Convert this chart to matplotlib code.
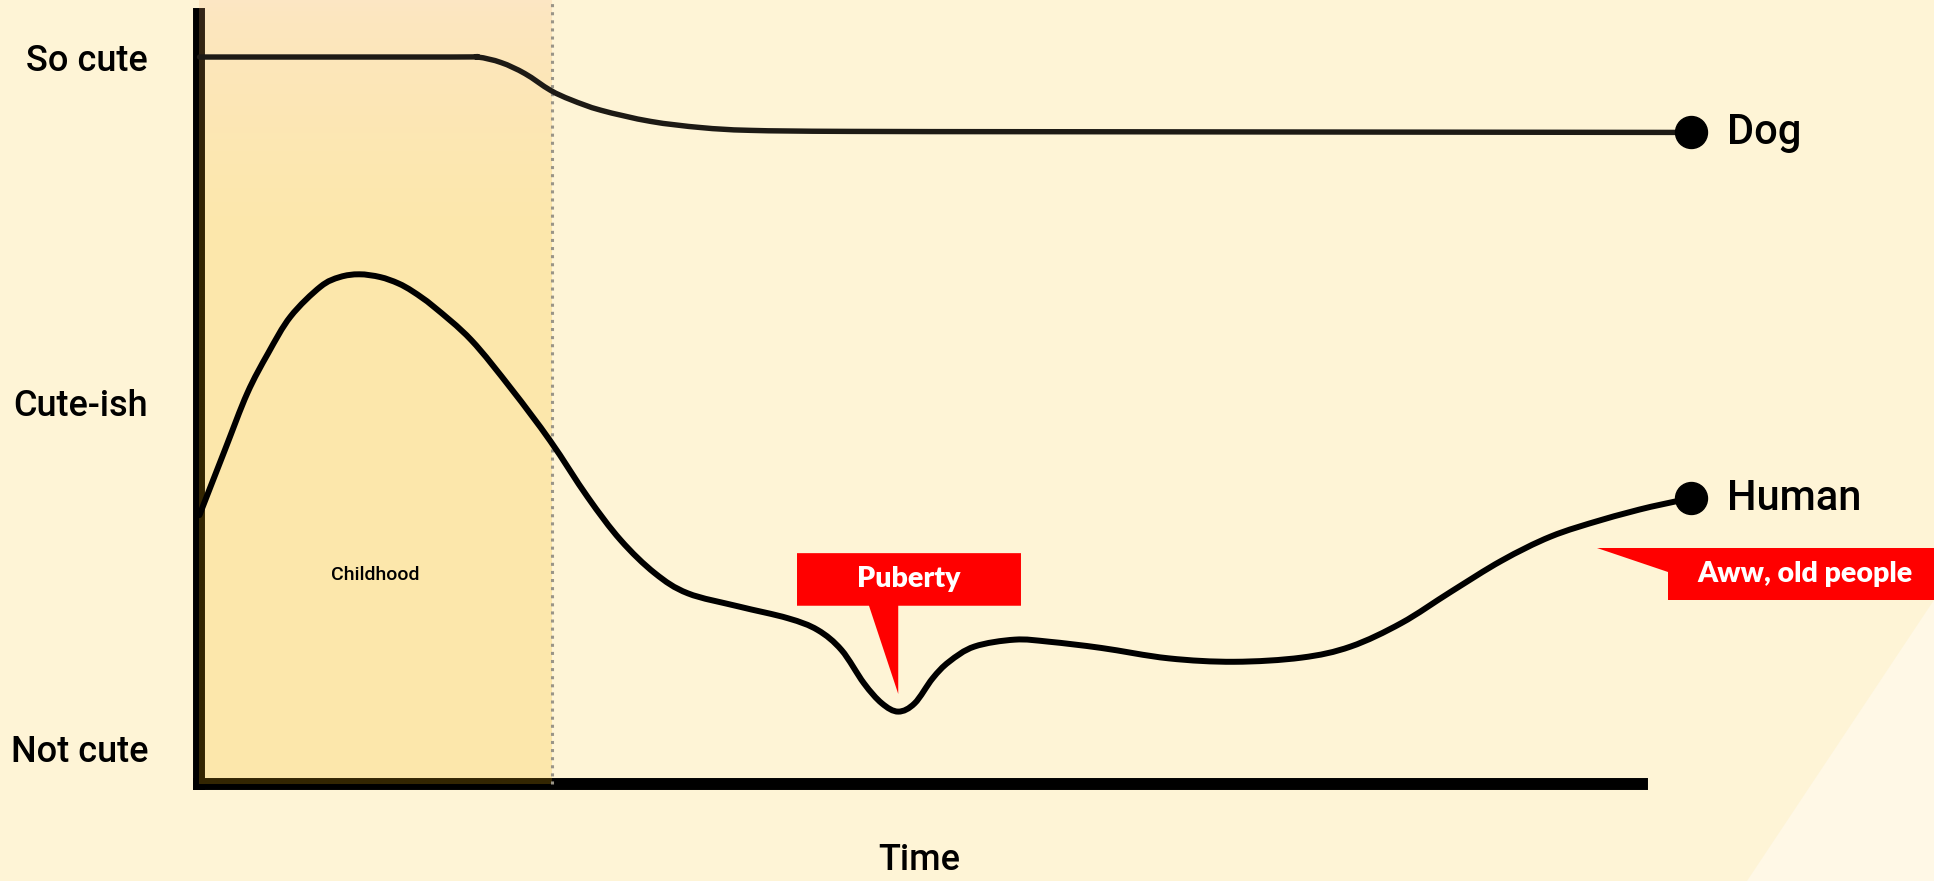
import numpy as np
import matplotlib.pyplot as plt
from matplotlib.patches import Polygon, PathPatch
from matplotlib.path import Path

# cuteness over time
human_x = [0.1, 1.8, 3.3, 4.7, 6.2, 8.2, 9.5, 10.8, 12.2, 13.4, 14.4, 15.8, 18.3, 21.0,
           23.6, 26.1, 28.3, 30.6, 32.8, 36.2, 39.5, 41.5, 43.1, 44.6, 45.8, 46.9,
           48.0, 49.2, 50.3, 52.0, 54.7, 57.0, 60.5, 65.0, 69.4, 73.9, 77.2, 80.6,
           83.9, 87.3, 90.6, 94.0, 97.3, 100.0]
human_y = [3.38, 4.32, 5.14, 5.72, 6.25, 6.68, 6.82, 6.86, 6.82, 6.73, 6.61, 6.39, 5.91, 5.20,
           4.45, 3.64, 3.02, 2.54, 2.25, 2.06, 1.89, 1.72, 1.43, 0.95, 0.66, 0.54,
           0.66, 1.02, 1.26, 1.48, 1.58, 1.55, 1.46, 1.31, 1.26, 1.32, 1.48, 1.82,
           2.27, 2.72, 3.07, 3.31, 3.50, 3.62]

dog_x = [0.1, 17.0, 18.7, 20.3, 21.9, 23.6, 25.0, 27.0, 30.3, 33.7, 37.0, 43.7, 60.0, 100.0]
dog_y = [10.0, 10.0, 10.0, 9.92, 9.76, 9.52, 9.38, 9.23, 9.07, 8.98, 8.94, 8.925, 8.92, 8.91]

level_ticks = [0, 5, 10]
level_labels = ["Not cute", "Cute-ish", "So cute"]

childhood_end = 23.69
puberty_x = 46.9      # the dip the callout points at
oldage_x = 93.7

BG = "#fef4d6"
FONT = ["Roboto", "DejaVu Sans"]
CALL = ["Lato", "DejaVu Sans"]


def curve_path(xs, ys):
    # draw through the read points with cubic segments (catmull-rom style)
    p = np.column_stack([xs, ys])
    ext = np.vstack([p[0], p, p[-1]])
    verts = [p[0]]
    codes = [Path.MOVETO]
    for i in range(len(p) - 1):
        p0, p1, p2, p3 = ext[i], ext[i + 1], ext[i + 2], ext[i + 3]
        verts += [p1 + (p2 - p0) / 6, p2 - (p3 - p1) / 6, p2]
        codes += [Path.CURVE4] * 3
    return Path(verts, codes)


fig = plt.figure(figsize=(19.34, 8.81), dpi=100)
fig.patch.set_facecolor(BG)
ax = fig.add_axes([0, 0, 1, 1])
ax.set_facecolor("none")

# lighter wedge in the lower right corner
fig.patches.append(Polygon([(1, 1 - 600 / 881), (1747 / 1934, 0), (1, 0)],
                           transform=fig.transFigure, fc="#fff8e6", ec="none", zorder=-1))

ybot = -0.506
# childhood band, drawn over the spines with a faint gradient
n = 200
t = np.linspace(0, 1, n)[:, None]
w = np.clip(t / 0.3, 0, 1) ** 0.7
top_c = np.array([250, 180, 125]) / 255
bot_c = np.array([249, 183, 10]) / 255
grad = np.zeros((n, 1, 4))
grad[:, :, :3] = (1 - w[..., None]) * top_c + w[..., None] * bot_c
grad[:, :, 3] = 0.21
ax.imshow(grad, extent=[0.1, childhood_end, ybot, 10.824], aspect="auto",
          interpolation="bicubic", zorder=3)
ax.axvline(childhood_end, ymin=(ybot + 1.908) / 12.732, ymax=1, color="#9a9588",
           ls=":", lw=2.2, zorder=3.5)
ax.text(childhood_end / 2, 2.51, "Childhood", ha="center", va="center",
        fontsize=14, weight="medium", family=FONT, zorder=5)

# curves
ax.add_patch(PathPatch(curve_path(dog_x, dog_y), fc="none", ec="#1d1a15", lw=3.9,
                       capstyle="round", joinstyle="round", zorder=4))
ax.add_patch(PathPatch(curve_path(human_x, human_y), fc="none", ec="black", lw=4.3,
                       capstyle="round", joinstyle="round", zorder=4))
ax.plot(dog_x[-1], dog_y[-1], "o", color="black", ms=23, zorder=5)
ax.plot(human_x[-1], human_y[-1], "o", color="black", ms=23, zorder=5)
ax.annotate("Dog", (dog_x[-1], dog_y[-1]), xytext=(26, 0), textcoords="offset points",
            ha="left", va="center", fontsize=30, weight="medium", family=FONT)
ax.annotate("Human", (human_x[-1], human_y[-1]), xytext=(26, 0), textcoords="offset points",
            ha="left", va="center", fontsize=30, weight="medium", family=FONT)

# puberty callout
pub_tip_y = 0.795
pb = Polygon([(40.12, 2.83), (55.12, 2.83), (55.12, 2.07), (puberty_x, 2.07),
              (puberty_x, pub_tip_y), (44.94, 2.07), (40.12, 2.07)],
             closed=True, fc="#ff0000", ec="none", zorder=6)
ax.add_patch(pb)
ax.text((40.12 + 55.12) / 2, 2.45, "Puberty", ha="center", va="center", color="white",
        fontsize=20.5, weight="heavy", family=CALL, zorder=7)

# old age callout
ob = Polygon([(oldage_x, 2.905), (116.8, 2.905), (116.8, 2.153), (98.46, 2.153),
              (98.46, 2.56)], closed=True, fc="#ff0000", ec="none", zorder=6)
ax.add_patch(ob)
ax.text(107.6, 2.53, "Aww, old people", ha="center", va="center", color="white",
        fontsize=20.5, weight="heavy", family=CALL, zorder=7)

# axes
for s in ["top", "right"]:
    ax.spines[s].set_visible(False)
ax.spines["left"].set_position(("data", 0.1))
ax.spines["bottom"].set_position(("data", ybot))
ax.spines["left"].set_bounds(ybot, 10.62)
ax.spines["bottom"].set_bounds(0.1, 96.7)
for s in ["left", "bottom"]:
    ax.spines[s].set_linewidth(8.6)
    ax.spines[s].set_color("black")
    ax.spines[s].set_zorder(2.5)

ax.set_xticks([])
ax.set_yticks(level_ticks)
ax.set_yticklabels(level_labels, fontsize=26, weight="medium", family=FONT)
ax.tick_params(axis="y", length=0, pad=37)

fig.text(919 / 1934, 1 - 860 / 881, "Time", ha="center", va="center",
         fontsize=26, weight="medium", family=FONT)

ax.set_xlim(-13.26, 116.27)
ax.set_ylim(-1.908, 10.824)

fig.savefig("out.png", dpi=100, facecolor=BG)
